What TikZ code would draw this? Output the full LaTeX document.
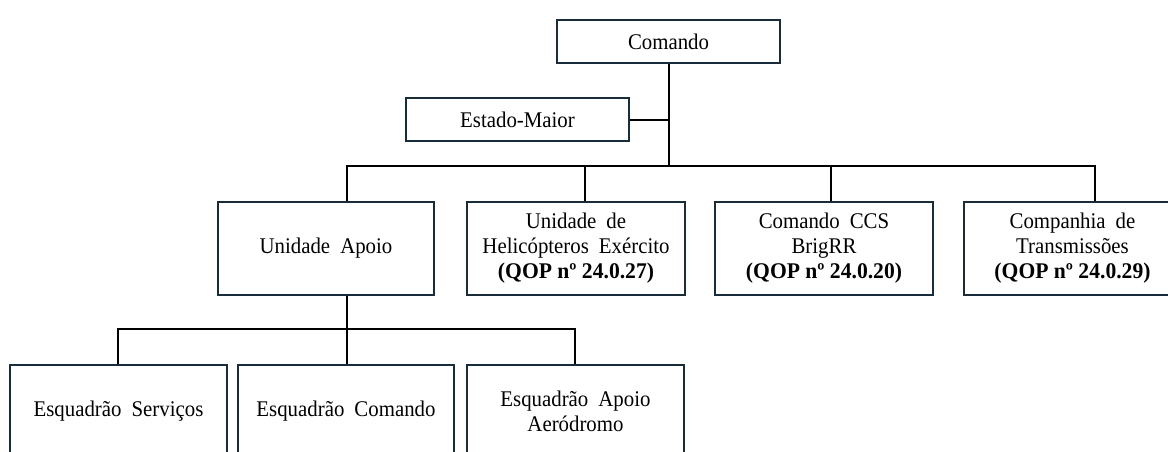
\documentclass[tikz,border=0pt]{standalone}
\usepackage{fontspec}
\setmainfont{Liberation Serif}[FakeStretch=0.93, BoldFeatures={FakeStretch=0.965}]
\definecolor{boxline}{RGB}{24,44,58}
\newcommand{\widesp}{\spaceskip=0.45em\relax}
\newcommand{\qopno}[1]{{\bfseries\spaceskip=0pt\relax (QOP nº #1)}}
\begin{document}
\begin{tikzpicture}[x=0.75pt,y=-0.75pt,
  box/.style={draw=boxline, line width=1.5pt, fill=white, inner sep=2pt,
    align=center, anchor=north west,
    font=\fontsize{16.8}{18.75}\selectfont,
    execute at begin node=\widesp},
  wire/.style={draw=black, line width=1.5pt}]
\useasboundingbox (0,0) rectangle (1168,451);
\clip (0,0) rectangle (1168,451);

% boxes
\node[box, minimum width=167.25pt, minimum height=32.25pt] (cmd) at (556,19) {Comando};
\node[box, minimum width=167.25pt, minimum height=32.25pt] (em) at (405,97) {Estado-Maior};
\node[box, minimum width=162pt, minimum height=69.75pt] (ua) at (217,201) {Unidade Apoio};
\node[box, minimum width=163.5pt, minimum height=69.75pt] (heli) at (466,201) {Unidade de\\Helicópteros Exército\\\qopno{24.0.27}};
\node[box, minimum width=163.5pt, minimum height=69.75pt] (ccs) at (714,201) {Comando CCS\\BrigRR\\\qopno{24.0.20}};
\node[box, minimum width=162.75pt, minimum height=69.75pt] (cia) at (963,201) {Companhia de\\Transmissões\\\qopno{24.0.29}};
\node[box, minimum width=162.75pt, minimum height=69.75pt] (es) at (9,364) {Esquadrão Serviços};
\node[box, minimum width=162pt, minimum height=69.75pt] (ec) at (237,364) {Esquadrão Comando};
\node[box, minimum width=162.75pt, minimum height=69.75pt] (ea) at (466,364) {Esquadrão Apoio\\Aeródromo};

% connector coordinates
\coordinate (t) at (669,166);
\coordinate (b1) at (347,166);
\coordinate (b2) at (585,166);
\coordinate (b3) at (831,166);
\coordinate (b4) at (1095,166);
\coordinate (c1) at (118,329);
\coordinate (c2) at (575,329);

% connectors
\draw[wire] (t |- cmd.south) -- (t);
\draw[wire] (em.east) -- (em.east -| t);
\draw[wire] (b1 |- ua.north) -- (b1) -- (b4) -- (b4 |- cia.north);
\draw[wire] (b2) -- (b2 |- heli.north);
\draw[wire] (b3) -- (b3 |- ccs.north);
\draw[wire] (b1 |- ua.south) -- (b1 |- ec.north);
\draw[wire] (c1 |- es.north) -- (c1) -- (c2) -- (c2 |- ea.north);
\end{tikzpicture}
\end{document}
